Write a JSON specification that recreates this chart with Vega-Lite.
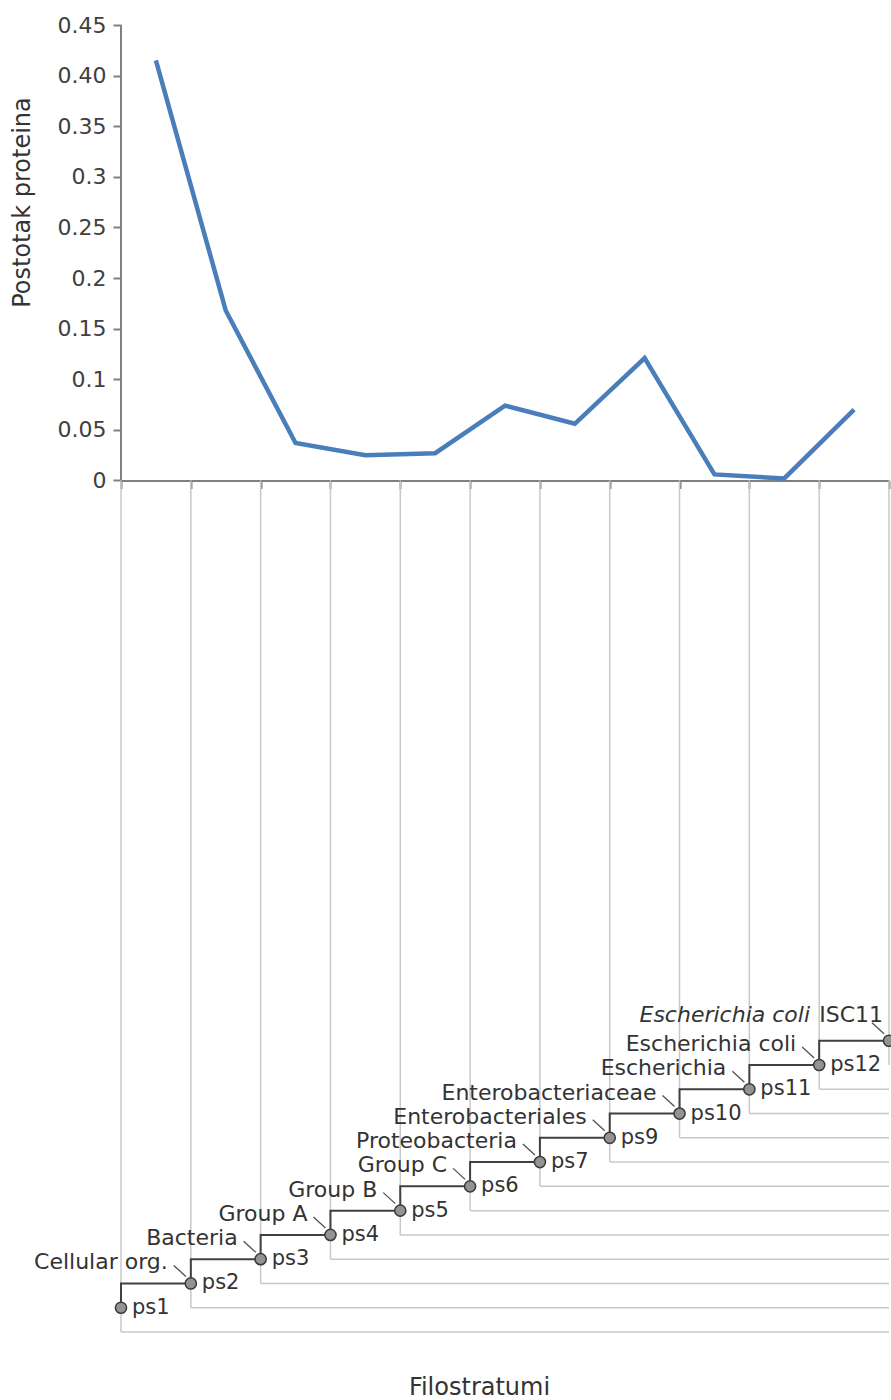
{
  "$schema": "https://vega.github.io/schema/vega-lite/v6.json",
  "autosize": {"type": "none"},
  "width": 768,
  "height": 1331,
  "padding": {"left": 121, "top": 25, "right": 2, "bottom": 44},
  "background": "white",
  "config": {"view": {"stroke": null}, "font": "DejaVu Sans"},
  "datasets": {
    "share": [
      {"pos": 1.5, "share": 0.415},
      {"pos": 2.5, "share": 0.168},
      {"pos": 3.5, "share": 0.037},
      {"pos": 4.5, "share": 0.025},
      {"pos": 5.5, "share": 0.027},
      {"pos": 6.5, "share": 0.074},
      {"pos": 7.5, "share": 0.056},
      {"pos": 8.5, "share": 0.121},
      {"pos": 9.5, "share": 0.006},
      {"pos": 10.5, "share": 0.002},
      {"pos": 11.5, "share": 0.070}
    ],
    "nodes": [
      {"k": 1, "level": 1, "floor": 0, "ps": "ps1"},
      {"k": 2, "level": 2, "floor": 1, "ps": "ps2", "taxon": "Cellular org."},
      {"k": 3, "level": 3, "floor": 2, "ps": "ps3", "taxon": "Bacteria"},
      {"k": 4, "level": 4, "floor": 3, "ps": "ps4", "taxon": "Group A"},
      {"k": 5, "level": 5, "floor": 4, "ps": "ps5", "taxon": "Group B"},
      {"k": 6, "level": 6, "floor": 5, "ps": "ps6", "taxon": "Group C"},
      {"k": 7, "level": 7, "floor": 6, "ps": "ps7", "taxon": "Proteobacteria"},
      {"k": 8, "level": 8, "floor": 7, "ps": "ps9", "taxon": "Enterobacteriales"},
      {"k": 9, "level": 9, "floor": 8, "ps": "ps10", "taxon": "Enterobacteriaceae"},
      {"k": 10, "level": 10, "floor": 9, "ps": "ps11", "taxon": "Escherichia"},
      {"k": 11, "level": 11, "floor": 10, "ps": "ps12", "taxon": "Escherichia coli"},
      {"k": 12, "level": 12, "floor": 11, "species": "Escherichia coli", "strain": "ISC11"}
    ]
  },
  "layer": [
    {
      "layer": [
        {
          "data": {"name": "share"},
          "mark": {"type": "line", "color": "#4a7ebb", "strokeWidth": 4.5},
          "encoding": {
            "x": {
              "field": "pos",
              "type": "quantitative",
              "scale": {"domain": [1, 12], "nice": false, "zero": false},
              "axis": {
                "title": "Filostratumi",
                "values": [1, 2, 3, 4, 5, 6, 7, 8, 9, 10, 11, 12],
                "labels": false,
                "grid": false,
                "domain": true,
                "ticks": true,
                "tickSize": 8,
                "tickWidth": 2,
                "tickColor": "#808080",
                "domainColor": "#808080",
                "domainWidth": 2,
                "offset": -875.5,
                "titleFont": "DejaVu Sans",
                "titleFontSize": 24,
                "titleFontWeight": "normal",
                "titleColor": "#333333",
                "titleX": 358,
                "titleY": 907,
                "titleAlign": "center",
                "titleBaseline": "middle"
              }
            },
            "y": {
              "field": "share",
              "type": "quantitative",
              "scale": {"domain": [-0.865, 0.45], "nice": false, "zero": false},
              "axis": {
                "title": "Postotak proteina",
                "values": [0, 0.05, 0.1, 0.15, 0.2, 0.25, 0.3, 0.35, 0.4, 0.45],
                "labelExpr": "datum.value > 0.399 && datum.value < 0.401 ? '0.40' : format(datum.value, '~g')",
                "domain": false,
                "grid": false,
                "ticks": true,
                "labels": true,
                "tickSize": 8,
                "tickWidth": 2,
                "tickColor": "#808080",
                "labelFont": "DejaVu Sans",
                "labelFontSize": 22,
                "labelColor": "#404040",
                "labelPadding": 7,
                "titleFont": "DejaVu Sans",
                "titleFontSize": 24,
                "titleFontWeight": "normal",
                "titleColor": "#333333",
                "titleX": -99,
                "titleY": 177,
                "titleAngle": 270,
                "titleAlign": "center",
                "titleBaseline": "middle"
              }
            }
          }
        },
        {
          "data": {"values": [{}]},
          "mark": {"type": "rule", "color": "#808080", "strokeWidth": 2},
          "encoding": {
            "x": {"datum": 1, "type": "quantitative"},
            "y": {"datum": 0, "type": "quantitative"},
            "y2": {"datum": 0.45}
          }
        }
      ]
    },
    {
      "data": {"name": "nodes"},
      "layer": [
        {
          "mark": {"type": "rule", "color": "#c8c8c8", "strokeWidth": 1.5},
          "encoding": {
            "x": {"field": "k", "type": "quantitative"},
            "y": {"field": "floor", "type": "quantitative", "scale": {"domain": [-0.989, 53.85], "nice": false, "zero": false}, "axis": null},
            "y2": {"datum": 35.08}
          }
        },
        {
          "mark": {"type": "rule", "color": "#c8c8c8", "strokeWidth": 1.5},
          "encoding": {
            "x": {"field": "k", "type": "quantitative"},
            "x2": {"datum": 12},
            "y": {"field": "floor", "type": "quantitative", "axis": null}
          }
        },
        {
          "mark": {"type": "line", "interpolate": "step-before", "color": "#404040", "strokeWidth": 2},
          "encoding": {
            "x": {"field": "k", "type": "quantitative"},
            "y": {"field": "level", "type": "quantitative", "axis": null},
            "order": {"field": "k"}
          }
        },
        {
          "transform": [{"filter": "isValid(datum.taxon) || isValid(datum.species)"}],
          "mark": {"type": "rule", "color": "#505050", "strokeWidth": 1.3, "xOffset": -17, "yOffset": -18, "x2Offset": -5, "y2Offset": -7},
          "encoding": {
            "x": {"field": "k", "type": "quantitative"},
            "x2": {"field": "k"},
            "y": {"field": "level", "type": "quantitative", "axis": null},
            "y2": {"field": "level"}
          }
        },
        {
          "mark": {"type": "point", "filled": true, "size": 125, "fill": "#939393", "stroke": "#3a3a3a", "strokeWidth": 1.5, "opacity": 1},
          "encoding": {
            "x": {"field": "k", "type": "quantitative"},
            "y": {"field": "level", "type": "quantitative", "axis": null}
          }
        },
        {
          "transform": [{"filter": "isValid(datum.ps)"}],
          "mark": {"type": "text", "align": "left", "baseline": "middle", "dx": 11, "dy": 0, "fontSize": 21, "color": "#333333"},
          "encoding": {
            "x": {"field": "k", "type": "quantitative"},
            "y": {"field": "level", "type": "quantitative", "axis": null},
            "text": {"field": "ps"}
          }
        },
        {
          "transform": [{"filter": "isValid(datum.taxon)"}],
          "mark": {"type": "text", "align": "right", "baseline": "middle", "dx": -23, "dy": -21, "fontSize": 22, "color": "#333333"},
          "encoding": {
            "x": {"field": "k", "type": "quantitative"},
            "y": {"field": "level", "type": "quantitative", "axis": null},
            "text": {"field": "taxon"}
          }
        },
        {
          "transform": [{"filter": "isValid(datum.species)"}],
          "mark": {"type": "text", "align": "right", "baseline": "middle", "dx": -79, "dy": -26, "fontSize": 22, "fontStyle": "italic", "color": "#333333"},
          "encoding": {
            "x": {"field": "k", "type": "quantitative"},
            "y": {"field": "level", "type": "quantitative", "axis": null},
            "text": {"field": "species"}
          }
        },
        {
          "transform": [{"filter": "isValid(datum.strain)"}],
          "mark": {"type": "text", "align": "right", "baseline": "middle", "dx": -6, "dy": -26, "fontSize": 22, "color": "#333333"},
          "encoding": {
            "x": {"field": "k", "type": "quantitative"},
            "y": {"field": "level", "type": "quantitative", "axis": null},
            "text": {"field": "strain"}
          }
        }
      ]
    }
  ],
  "resolve": {"scale": {"y": "independent"}}
}
